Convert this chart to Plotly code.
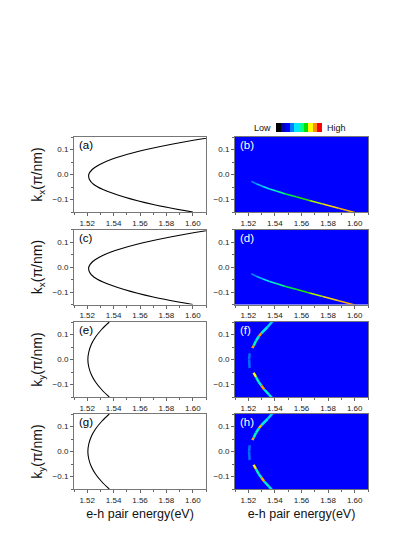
import plotly.graph_objects as go
from plotly.colors import sample_colorscale

# colour bar blocks (Low -> High)
cb_colors = ['#000000', '#0000b4', '#0000ff', '#0080ff', '#00e6ff',
             '#00ff90', '#00e000', '#ffff00', '#ff9000', '#ff0000']

# (a), (c): k_x dispersion, black curve
kx_k = [-0.15, -0.12, -0.09, -0.06, -0.04, -0.02, 0.0, 0.02, 0.04, 0.06, 0.09, 0.12, 0.15]
kx_e = [1.600, 1.570, 1.548, 1.532, 1.525, 1.5217, 1.5212, 1.5238, 1.5295, 1.538, 1.557, 1.583, 1.616]

# (e), (g): k_y dispersion, black curve
ky_k = [-0.15, -0.12, -0.09, -0.06, -0.03, 0.0, 0.03, 0.06, 0.09, 0.12, 0.15]
ky_e = [1.5367, 1.5309, 1.5263, 1.5231, 1.5212, 1.5205, 1.5212, 1.5231, 1.5263, 1.5309, 1.5367]

# (b), (d): intensity along the k_x branch
b_e = [1.5223, 1.526, 1.531, 1.536, 1.541, 1.548, 1.556, 1.566, 1.576, 1.588, 1.600]
b_k = [-0.027, -0.037, -0.048, -0.058, -0.066, -0.078, -0.089, -0.104, -0.118, -0.135, -0.152]
b_int = [0.34, 0.40, 0.45, 0.50, 0.56, 0.62, 0.68, 0.74, 0.82, 0.86, 0.88]

# (f), (h): intensity along the k_y branch
f_e = [1.5385, 1.5345, 1.5298, 1.5280, 1.5258, 1.5240, 1.5230, 1.5217, 1.5210, 1.5206,
       1.5210, 1.5220, 1.5230, 1.5240, 1.5258, 1.5278, 1.5298, 1.5320, 1.5355, 1.5385]
f_k = [0.155, 0.13, 0.105, 0.093, 0.075, 0.055, 0.045, 0.032, 0.025, 0.0,
       -0.035, -0.041, -0.047, -0.053, -0.070, -0.090, -0.104, -0.120, -0.140, -0.158]
f_int = [0.42, 0.47, 0.88, 0.50, 0.52, 0.88, 0.22, 0.22, 0.32, 0.32,
         0.22, 0.22, 0.22, 0.78, 0.52, 0.48, 0.88, 0.50, 0.45, 0.42]
h_int = [0.42, 0.47, 0.85, 0.50, 0.52, 0.86, 0.22, 0.22, 0.32, 0.32,
         0.22, 0.22, 0.22, 0.80, 0.52, 0.48, 0.86, 0.50, 0.45, 0.42]

labels = ['(a)', '(b)', '(c)', '(d)', '(e)', '(f)', '(g)', '(h)']
ytitles = ['k<sub>x</sub>(π/nm)', 'k<sub>x</sub>(π/nm)', 'k<sub>y</sub>(π/nm)', 'k<sub>y</sub>(π/nm)']
xtitle = 'e-h pair energy(eV)'

W, H = 415, 537
col_px = [(66, 198), (227, 360)]
row_px = [(129, 204), (221.5, 296.5), (314, 389), (406, 481)]

cscale = [[i / 9, c] for i, c in enumerate(cb_colors)]
FONT = 'Liberation Sans, Arial, sans-serif'

fig = go.Figure()


def sfx(n):
    return '' if n == 1 else str(n)


def add_black(n, e, k):
    fig.add_trace(go.Scatter(x=e, y=k, mode='lines', line=dict(color='black', width=1.1, shape='spline'),
                             xaxis='x' + sfx(n), yaxis='y' + sfx(n), showlegend=False, hoverinfo='skip'))


def add_colored(n, e, k, inten, width):
    cols = sample_colorscale(cscale, inten)
    for i in range(len(e) - 1):
        fig.add_trace(go.Scatter(x=[e[i], e[i + 1]], y=[k[i], k[i + 1]], mode='lines',
                                 line=dict(color=cols[i], width=width),
                                 xaxis='x' + sfx(n), yaxis='y' + sfx(n), showlegend=False, hoverinfo='skip'))


add_black(1, kx_e, kx_k)
add_colored(2, b_e, b_k, b_int, 1.5)
add_black(3, kx_e, kx_k)
add_colored(4, b_e, b_k, b_int, 1.5)
add_black(5, ky_e, ky_k)
add_colored(6, f_e, f_k, f_int, 2.5)
add_black(7, ky_e, ky_k)
add_colored(8, f_e, f_k, h_int, 2.5)

shapes = []
annotations = []
for p in range(8):
    r, c = divmod(p, 2)
    n = p + 1
    s = sfx(n)
    x0, x1 = col_px[c]
    y0, y1 = row_px[r]
    xa = dict(
        domain=[x0 / W, x1 / W], anchor='y' + s, range=[1.51, 1.61],
        tick0=1.52, dtick=0.02, tickformat='.2f',
        ticks='outside', ticklen=3, tickcolor='#666',
        minor=dict(dtick=0.01, ticks='outside', ticklen=2, tickcolor='#666'),
        showline=True, linecolor='#777', linewidth=1, mirror=True,
        showgrid=False, zeroline=False, tickfont=dict(size=8, color='#222'),
    )
    if r == 3:
        xa['title'] = dict(text=xtitle, font=dict(size=12.5, color='#111'), standoff=5)
    ya = dict(
        domain=[1 - y1 / H, 1 - y0 / H], anchor='x' + s, range=[-0.15, 0.15],
        tick0=0, dtick=0.1, tickformat='.1f',
        ticks='outside', ticklen=3, tickcolor='#666',
        minor=dict(dtick=0.05, ticks='outside', ticklen=2, tickcolor='#666'),
        showline=True, linecolor='#777', linewidth=1, mirror=True,
        showgrid=False, zeroline=False, tickfont=dict(size=8, color='#222'),
    )
    if c == 0:
        ya['title'] = dict(text=ytitles[r], font=dict(size=14, color='#111'), standoff=6)
    fig.layout['xaxis' + s] = xa
    fig.layout['yaxis' + s] = ya
    if c == 1:
        shapes.append(dict(type='rect', xref=f'x{s} domain', yref=f'y{s} domain',
                           x0=0, x1=1, y0=0, y1=1, fillcolor='#0000ff', line=dict(width=0), layer='below'))
    annotations.append(dict(text=labels[p], xref=f'x{s} domain', yref=f'y{s} domain',
                            x=0.02, y=1.0, xanchor='left', yanchor='top', showarrow=False,
                            font=dict(size=11.5, color='white' if c == 1 else 'black')))

# colour bar strip above (b)
fig.add_trace(go.Heatmap(z=[list(range(len(cb_colors)))], colorscale=[[i / 9, col] for i, col in enumerate(cb_colors)],
                         zmin=0, zmax=9, showscale=False, xaxis='x9', yaxis='y9', hoverinfo='skip'))
fig.layout['xaxis9'] = dict(domain=[268 / W, 314 / W], anchor='y9', visible=False, range=[-0.5, 9.5])
fig.layout['yaxis9'] = dict(domain=[1 - 124 / H, 1 - 115 / H], anchor='x9', visible=False, range=[-0.5, 0.5])
annotations.append(dict(text='Low', xref='paper', yref='paper', x=265 / W, y=1 - 119.5 / H,
                        xanchor='right', yanchor='middle', showarrow=False, font=dict(size=9, color='#111')))
annotations.append(dict(text='High', xref='paper', yref='paper', x=317 / W, y=1 - 119.5 / H,
                        xanchor='left', yanchor='middle', showarrow=False, font=dict(size=9, color='#111')))

fig.update_layout(
    width=W, height=H,
    margin=dict(l=0, r=0, t=0, b=0),
    paper_bgcolor='white', plot_bgcolor='white',
    font=dict(family=FONT),
    shapes=shapes, annotations=annotations,
)

fig.write_html("out.html")
